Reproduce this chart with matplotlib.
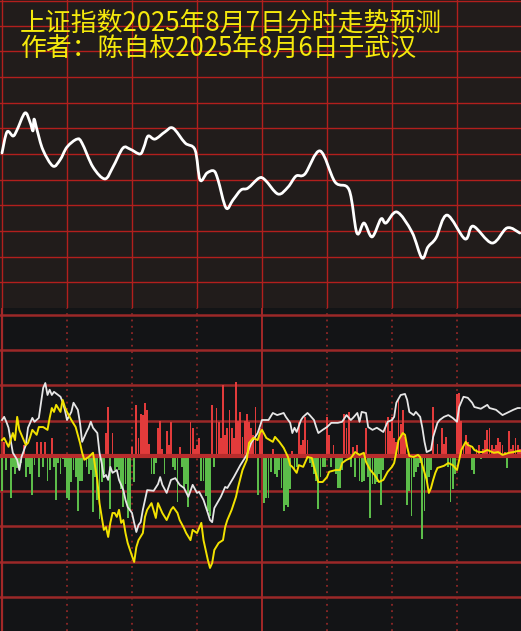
import numpy as np
import matplotlib
matplotlib.use("Agg")
import matplotlib.pyplot as plt
from matplotlib.path import Path
from matplotlib.patches import PathPatch

plt.rcParams['font.family'] = ['Noto Sans CJK SC', 'DejaVu Sans']

# ---------------- data ----------------
title1 = "上证指数2025年8月7日分时走势预测"
title2 = "作者：陈自权2025年8月6日于武汉"

# top panel: predicted intraday price (grid units), minute of session
price_t = [0, 2.3, 5.1, 6.9, 10.6, 12.9, 14.3, 14.8, 16.2, 18.9, 23.5, 26.8, 30, 34.6, 36.9,
           42, 47.5, 51.2, 55.8, 59.1, 63.7, 65.5, 67.4, 70.6, 75.2, 78.9, 84.5, 89.1, 91.4,
           94.6, 97.8, 99.7, 103.4, 106.6, 110.3, 113.5, 118.6, 121.4, 127.4, 132, 135.7,
           139.8, 146.8, 153.7, 160.2, 163.8, 167.1, 170.8, 174.9, 177.2, 182.3, 189.2,
           193.8, 196.6, 200.3, 205.4, 213.7, 217.4, 226.2, 233.1, 239]
price_v = [6.04, 6.86, 6.70, 6.93, 7.60, 7.25, 6.90, 7.36, 6.93, 6.16, 5.53, 5.77, 6.27, 6.58,
           6.43, 5.49, 5.03, 5.49, 6.23, 6.19, 6.00, 6.27, 6.70, 6.58, 6.86, 7.01, 6.43, 6.16,
           4.99, 5.26, 5.34, 4.99, 3.90, 4.21, 4.60, 4.67, 5.06, 4.99, 4.44, 4.71, 5.14, 5.22,
           6.12, 4.91, 4.60, 2.92, 3.31, 2.77, 3.47, 3.31, 3.74, 2.96, 1.95, 2.38, 2.73, 3.62,
           2.69, 3.19, 2.53, 3.12, 2.92]

# bottom panel: white line
white_t = [0, 1, 2, 3, 4, 5, 7, 8, 9, 11, 12, 14, 15, 17, 18, 19, 20, 21, 22, 23, 24, 27, 28,
           29, 30, 32, 33, 35, 36, 37, 39, 40, 41, 42, 44, 45, 46, 47, 48, 49, 50, 51, 53, 54,
           56, 57, 58, 60, 61, 62, 63, 64, 65, 67, 70, 72, 73, 74, 76, 78, 80, 82, 84, 86, 88,
           90, 91, 93, 95, 96, 97, 98, 101, 103, 104, 107, 110, 113, 115, 118, 120, 121, 123,
           125, 127, 130, 131, 133, 134, 135, 136, 138, 139, 141, 142, 144, 145, 146, 148, 150,
           152, 155, 157, 159, 161, 162, 164, 165, 166, 168, 169, 171, 173, 176, 178, 180, 181,
           182, 184, 186, 187, 188, 190, 191, 193, 194, 195, 196, 198, 199, 201, 202, 204, 206,
           208, 210, 211, 213, 215, 217, 218, 221, 224, 225, 228, 231, 233, 236, 238, 239]
white_v = [1.02, 1.11, 0.97, 0.80, 0.45, 0.09, -0.11, -0.40, -0.03, 0.31, 0.80, 1.08, 0.97,
           1.08, 1.51, 1.93, 2.07, 1.73, 1.88, 1.73, 1.82, 1.68, 1.53, 1.31, 1.02, 1.25, 1.51,
           1.31, 0.94, 0.40, 0.68, 0.80, 0.97, 0.80, 0.65, 0.09, -0.20, -0.60, -0.54, -0.68,
           -0.31, -0.48, -0.40, -0.68, -0.97, -1.25, -1.45, -1.62, -1.90, -2.16, -1.96, -1.88,
           -1.53, -0.97, -0.99, -0.80, -0.60, -0.82, -1.05, -0.68, -0.63, -0.82, -0.91, -1.16,
           -0.82, -1.05, -1.02, -1.25, -1.62, -1.82, -1.88, -1.48, -1.16, -0.88, -0.91, -0.60,
           -0.26, 0.03, 0.37, 0.65, 1.02, 1.02, 1.02, 1.22, 1.16, 1.22, 1.11, 0.94, 0.65, 0.80,
           0.68, 1.02, 1.11, 1.22, 1.16, 1.02, 0.82, 0.65, 0.74, 0.82, 0.94, 0.94, 0.97, 1.16,
           1.02, 1.08, 1.22, 0.97, 1.25, 1.22, 0.82, 0.74, 0.80, 0.68, 0.97, 1.02, 1.11, 1.51,
           1.73, 1.76, 1.59, 1.25, 1.16, 1.25, 1.11, 0.80, 0.40, 0.11, 0.17, 0.54, 0.94, 1.02,
           1.11, 1.16, 1.08, 0.97, 1.39, 1.68, 1.65, 1.51, 1.39, 1.34, 1.45, 1.36, 1.31, 1.16,
           1.22, 1.31, 1.36, 1.36]

# bottom panel: yellow line
yellow_t = [0, 1, 3, 5, 6, 7, 8, 10, 11, 12, 13, 14, 16, 17, 19, 21, 22, 23, 24, 25, 27, 28,
            29, 30, 32, 34, 36, 37, 38, 40, 42, 43, 44, 45, 47, 48, 49, 50, 51, 52, 53, 54, 55,
            56, 57, 58, 60, 61, 62, 63, 65, 66, 67, 69, 71, 72, 74, 76, 78, 79, 81, 82, 84, 85,
            87, 88, 90, 92, 93, 95, 96, 97, 98, 100, 102, 103, 104, 106, 108, 109, 111, 113,
            114, 116, 118, 119, 120, 122, 125, 126, 128, 130, 132, 133, 134, 136, 137, 139, 141,
            143, 144, 146, 148, 150, 151, 154, 156, 157, 159, 161, 163, 165, 167, 168, 170, 172,
            174, 176, 178, 180, 181, 182, 183, 185, 186, 187, 188, 190, 192, 193, 194, 196, 197,
            198, 199, 200, 201, 204, 206, 208, 210, 211, 212, 214, 215, 217, 218, 220, 222, 224,
            227, 229, 231, 234, 236, 238, 239]
yellow_v = [0.45, 0.51, 0.26, 0.65, 0.45, 1.11, 0.74, 0.45, 0.31, 0.37, 0.54, 0.74, 0.60,
            0.82, 0.82, 0.74, 1.08, 1.36, 1.25, 1.45, 1.25, 1.59, 1.39, 1.25, 1.02, 0.82, 0.37,
            0.09, -0.11, -0.03, 0.09, -0.31, -0.68, -1.34, -2.10, -2.02, -2.30, -1.90, -1.62,
            -1.62, -1.73, -1.53, -1.90, -1.82, -2.19, -2.47, -2.84, -3.01, -2.59, -2.39, -2.19,
            -1.73, -1.53, -1.34, -1.76, -1.34, -1.62, -1.82, -1.53, -1.45, -1.62, -1.82, -2.05,
            -2.19, -2.39, -2.10, -2.19, -1.90, -2.39, -2.95, -3.18, -3.04, -2.67, -2.47, -2.39,
            -2.02, -1.82, -1.53, -1.16, -0.88, -0.40, -0.11, 0.37, 0.51, 0.45, 0.65, 0.74, 0.51,
            0.40, 0.54, 0.40, 0.23, -0.03, -0.26, -0.31, -0.48, -0.26, -0.31, -0.03, -0.06,
            -0.31, -0.74, -0.74, -0.60, -0.45, -0.40, -0.40, -0.20, -0.11, -0.06, 0.11, 0.03,
            0.09, -0.17, -0.40, -0.54, -0.74, -0.68, -0.45, -0.31, -0.20, 0.11, 0.45, 0.65,
            0.60, 0.26, 0.00, -0.03, 0.03, -0.03, -0.26, -0.68, -1.05, -0.91, -0.68, -0.48,
            -0.34, -0.28, -0.20, -0.26, -0.40, -0.11, 0.17, 0.40, 0.31, 0.26, 0.17, 0.11, 0.11,
            0.17, 0.09, 0.11, 0.03, 0.09, 0.11, 0.14, 0.14]

# bottom panel: red (up) / green (down) bars by minute
bar_t = [0, 1, 2, 4, 5, 6, 7, 8, 9, 10, 11, 12, 13, 14, 15, 16, 17, 18, 19, 20, 21, 22, 23, 24,
         25, 26, 27, 28, 29, 30, 31, 32, 33, 34, 35, 36, 37, 38, 39, 40, 41, 42, 43, 44, 45, 46,
         47, 48, 49, 50, 51, 52, 53, 54, 55, 56, 57, 58, 59,
         60, 61, 62, 63, 64, 65, 66, 67, 68, 69, 70, 71, 72, 73, 74, 75, 76, 77, 78, 79, 80, 81,
         82, 83, 84, 85, 86, 87, 88, 89, 90, 91, 92, 93, 94, 95, 96, 97, 98, 99, 100, 101, 102,
         103, 104, 105, 106, 107, 108, 109, 110, 111, 112, 113, 114, 115, 116, 117, 118, 119,
         120, 121, 122, 123, 124, 125, 126, 127, 128, 129, 130, 131, 132, 133, 134, 135, 136,
         137, 138, 139, 140, 141, 142, 143, 144, 145, 146, 147, 148, 149, 150, 151, 152, 153,
         154, 155, 156, 157, 158, 159, 160, 161, 162, 163, 164, 165, 166, 167, 168, 169, 170,
         171, 172, 173, 174, 175, 176, 177, 178, 179,
         180, 181, 182, 183, 184, 185, 186, 187, 188, 189, 190, 191, 192, 193, 194, 195, 196,
         197, 198, 199, 201, 203, 204, 205, 206, 207, 208, 209, 210, 211, 212, 213, 214, 215,
         216, 217, 218, 219, 220, 221, 222, 223, 224, 225, 226, 227, 228, 229, 230, 231, 232,
         233, 234, 235, 236, 237, 238, 239]
bar_v = [-1.0, 0.4, -0.4, -1.2, -0.3, -0.5, -0.35, -0.3, -0.2, 0.3, -0.6, -0.3, -0.5, -1.1,
         -0.25, 0.4, -0.6, 0.4, -0.3, 0.4, -0.7, -0.4, 0.5, -0.3, -1.25, -0.2, -0.5, -0.1,
         -0.3, -1.2, -1.25, -0.75, -0.4, -0.6, -1.55, -0.7, -0.7, -0.1, -0.3, -0.5, -0.4, -1.6,
         -0.6, -1.25, -1.8, -0.75, -0.5, 0.65, 1.4, -1.5, 0.65, -0.4, -0.3, -0.4, -0.95, -1.45,
         -0.8, -1.75, -1.55,
         0.25, -0.75, 1.45, 0.5, 1.2, 1.15, 1.5, 1.3, 0.35, -0.5, -0.5, -0.2, 0.8, 1.0, 0.2,
         -0.5, 0.7, 0.3, 0.95, -0.3, -0.4, -1.3, 0.25, -0.3, -0.9, -0.8, -1.45, 0.95, 0.8, 0.2,
         0.3, 0.5, -0.7, -0.7, -1.15, -1.55, -1.7, 1.45, -0.3, 1.35, 0.95, 0.5, 2.0, 0.6, 0.8,
         1.3, 0.8, 0.5, 2.1, 1.0, 1.25, 0.55, 1.0, 1.2, 0.95, 0.8, 0.6, 1.4, -1.1, 0.8,
         0.7, -1.35, -1.2, -1.2, -0.45, 0.2, -0.5, -0.6, -0.4, -0.9, -1.55, -1.4, -1.45, -0.95,
         0.15, -0.4, -0.3, 0.95, 0.3, 0.45, 1.1, 0.45, -0.2, -0.3, -0.5, -0.7, -1.5, -0.6,
         -0.3, -0.3, 1.1, 0.6, -0.3, 0.3, -0.5, -0.9, -0.9, -0.4, 1.2, 0.8, 1.25, -0.3, 0.25,
         -0.6, 0.3, -0.7, -0.75, -0.7, 0.8, -0.6, -1.75, -0.8, -0.8, -0.75, -0.5, -1.4, -0.4,
         1.0, 1.1, 0.7,
         1.1, 0.5, 0.4, 1.65, 0.9, 1.3, 0.55, -1.4, -1.0, -1.7, -0.6, -0.45, -0.3, -0.2, -2.35,
         -1.55, -0.75, -0.6, -0.4, 1.4, 0.35, 0.8, 0.35, 0.55, -0.3, -1.3, -0.95, -0.5, 1.75,
         1.8, 1.0, 0.3, 0.6, 0.4, 0.25, -0.4, -0.5, 0.2, 0.3, -0.1, 0.2, 0.45, 0.75, 0.8, 0.3,
         0.2, 0.3, 0.5, 0.4, 0.3, 0.1, -0.35, 0.7, 0.2, 0.3, 0.5, 0.3, 0.2]

# ---------------- style ----------------
W, H = 521, 631
fig = plt.figure(figsize=(W / 100, H / 100), dpi=100)
top_bg = '#211c1b'
bot_bg = '#131416'
fig.patch.set_facecolor(bot_bg)

top_h = 308
ax1 = fig.add_axes([0, 1 - top_h / H, 1, top_h / H])
ax2 = fig.add_axes([0, 0, 1, (H - top_h) / H])

px_per_min = 65 / 30.0
x_left = -2 / px_per_min
x_right = (W - 2) / px_per_min

for ax in (ax1, ax2):
    ax.set_xlim(x_left, x_right)
    ax.set_axis_off()

# top panel
ax1.add_patch(plt.Rectangle((0, 0), 1, 1, transform=ax1.transAxes, color=top_bg, zorder=0))
ax1.set_ylim(0, 12)
grid_red = '#b21f1d'
for k in range(1, 12):
    ax1.axhline(k, color=grid_red, lw=1.0, zorder=1)
ax1.axhline(11.97, color=grid_red, lw=1.0, zorder=1)
for m in range(0, 240, 30):
    ax1.axvline(m, color=grid_red, lw=1.0, zorder=1)


def smooth_path(x, y):
    pts = np.column_stack([x, y]).astype(float)
    verts = [pts[0]]
    codes = [Path.MOVETO]
    n = len(pts)
    for i in range(n - 1):
        p0 = pts[i - 1] if i > 0 else pts[i]
        p1 = pts[i]
        p2 = pts[i + 1]
        p3 = pts[i + 2] if i + 2 < n else pts[i + 1]
        c1 = p1 + (p2 - p0) / 6.0
        c2 = p2 - (p3 - p1) / 6.0
        verts += [c1, c2, p2]
        codes += [Path.CURVE4] * 3
    return Path(verts, codes)


ax1.add_patch(PathPatch(smooth_path(price_t, price_v), fill=False, edgecolor='white',
                        lw=2.0, zorder=3, capstyle='round', joinstyle='round'))

txt_col = '#f5e90c'
fig.text(20 / W, 1 - 23 / H, title1, color=txt_col, fontsize=18.6, ha='left', va='center')
fig.text(20 / W, 1 - 48 / H, title2, color=txt_col, fontsize=18.6, ha='left', va='center')

# bottom panel
ax2.add_patch(plt.Rectangle((0, 0), 1, 1, transform=ax2.transAxes, color=bot_bg, zorder=0))
ax2.set_ylim(-4.97, 4.2)
hl = '#9c2828'
for k in [-4, -3, -2, -1, 1, 2, 3, 4]:
    ax2.axhline(k, color=hl, lw=1.8, zorder=1)
for m in [30, 60, 90, 150, 180, 210]:
    ax2.axvline(m, color='#8e2727', lw=1.3, ls=(0, (1, 2.5)), zorder=1)
ax2.axvline(0, color='#a32828', lw=1.6, zorder=1)
ax2.axvline(120, color='#a32828', lw=1.4, zorder=1)

bar_t_a = np.array(bar_t)
bar_v_a = np.array(bar_v)
cols = np.where(bar_v_a > 0, '#e23b3b', '#5cbd4a')
ax2.bar(bar_t_a, bar_v_a, width=0.85, color=cols, zorder=2, linewidth=0)
ax2.axhline(0, color='#b82c2c', lw=3.0, zorder=2.5)

ax2.plot(white_t, white_v, color='#e6e6e6', lw=1.3, zorder=3)
ax2.plot(yellow_t, yellow_v, color='#f2e200', lw=1.4, zorder=4)

fig.savefig('out.png', dpi=100, facecolor=fig.get_facecolor())
